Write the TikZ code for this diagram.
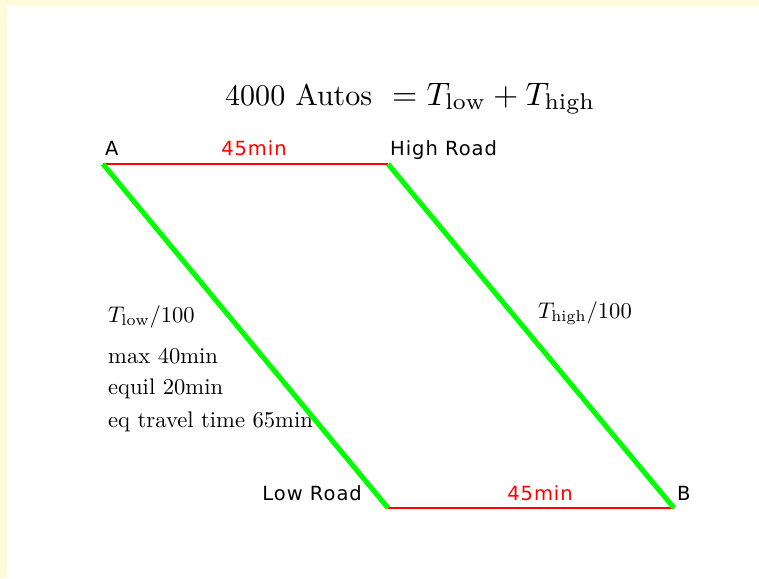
\documentclass[tikz,border=0pt]{standalone}
\usepackage{fontspec}
\usepackage{graphicx}
\newfontfamily\labfont[LetterSpace=5]{DejaVu Sans}
\definecolor{frameyellow}{RGB}{255,250,220}
\definecolor{roadgreen}{RGB}{0,255,0}
\newcommand{\bodytxt}[1]{\scalebox{2.26}{\normalsize #1}}
\tikzset{
  redroad/.style={draw=red, line width=2.5pt},
  greenroad/.style={draw=roadgreen, line width=5pt},
  lab/.style={inner sep=0pt, font=\labfont\fontsize{19.5}{22}\selectfont},
  redlab/.style={lab, text=red},
  eqtext/.style={inner sep=0pt},
  titletext/.style={inner sep=0pt}
}
\begin{document}
\begin{tikzpicture}[x=1pt,y=-1pt]
\useasboundingbox (0,0) rectangle (759,578);
\fill[frameyellow] (0,0) rectangle (759,6);
\fill[frameyellow] (0,0) rectangle (7,578);
\coordinate (A) at (103,164);
\coordinate (H) at (388,164);
\coordinate (L) at (388,508);
\coordinate (B) at (674,508);
\draw[redroad] (A) -- (H);
\draw[redroad, line width=2pt] (L) -- (B);
\draw[greenroad] (A) -- (L);
\draw[greenroad] (H) -- (B);
\node[titletext, anchor=base west] (title) at (225,105) {\resizebox{147pt}{!}{\normalsize 4000 Autos}};
\node[titletext, anchor=base west] (titleeq) at (392,105) {\resizebox{203pt}{!}{\normalsize $=T_{\mathrm{low}}+T_{\mathrm{high}}$}};
\node[lab, anchor=base west] (la) at (105,155) {A};
\node[redlab, anchor=base] (t45) at (254,155) {45min};
\node[lab, anchor=base west] (lh) at (390,155) {High Road};
\node[lab, anchor=base east] (ll) at (362,500) {Low Road};
\node[redlab, anchor=base] (b45) at (540,500) {45min};
\node[lab, anchor=base west] (lb) at (677,500) {B};
\node[eqtext, anchor=base west] (tl) at (108,322) {\bodytxt{$T_{\mathrm{low}}/100$}};
\node[eqtext, anchor=base west] (mx) at (108,363) {\bodytxt{max 40min}};
\node[eqtext, anchor=base west] (eqm) at (108,394) {\bodytxt{equil 20min}};
\node[eqtext, anchor=base west] (tt) at (108,427) {\bodytxt{eq travel time 65min}};
\node[eqtext, anchor=base west] (th) at (538,318) {\bodytxt{$T_{\mathrm{high}}/100$}};
\end{tikzpicture}
\end{document}
